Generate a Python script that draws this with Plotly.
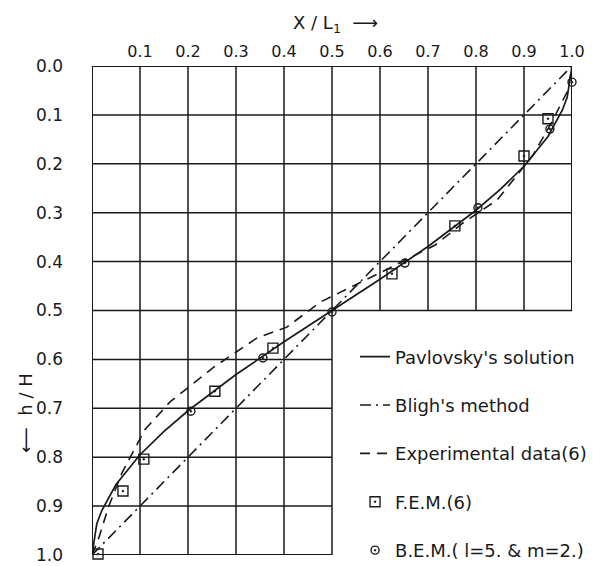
import plotly.graph_objects as go

# ---- axis ticks ----
x_ticks = [0.1, 0.2, 0.3, 0.4, 0.5, 0.6, 0.7, 0.8, 0.9, 1.0]
x_tick_text = ["0.1", "0.2", "0.3", "0.4", "0.5", "0.6", "0.7", "0.8", "0.9", "1.0"]
y_ticks = [0.0, 0.1, 0.2, 0.3, 0.4, 0.5, 0.6, 0.7, 0.8, 0.9, 1.0]
y_tick_text = ["0.0", "0.1", "0.2", "0.3", "0.4", "0.5", "0.6", "0.7", "0.8", "0.9", "1.0"]

# ---- series (x = X/L1, y = h/H) ----
pav_x = [0.0, 0.01, 0.02, 0.05, 0.1, 0.15, 0.2, 0.3, 0.4, 0.5, 0.6, 0.7, 0.8, 0.85, 0.9, 0.95, 0.98, 0.99, 1.0]
pav_y = [1.0, 0.936, 0.91, 0.856, 0.795, 0.747, 0.705, 0.631, 0.564, 0.5, 0.436, 0.369, 0.295, 0.253, 0.205, 0.144, 0.09, 0.064, 0.0]

bligh_x = [0.0, 1.0]
bligh_y = [1.0, 0.0]

exp_x = [0.0, 0.0125, 0.035, 0.0625, 0.11, 0.1625, 0.255, 0.344, 0.406, 0.475, 0.6, 0.655, 0.715, 0.773, 0.844, 0.919, 0.955, 0.992, 1.0]
exp_y = [1.0, 0.97, 0.9, 0.832, 0.744, 0.687, 0.615, 0.556, 0.534, 0.483, 0.423, 0.395, 0.366, 0.321, 0.274, 0.182, 0.12, 0.049, 0.0]

fem_x = [0.0125, 0.0645, 0.108, 0.256, 0.377, 0.625, 0.756, 0.90, 0.95]
fem_y = [0.998, 0.869, 0.804, 0.665, 0.577, 0.425, 0.327, 0.184, 0.108]

bem_x = [0.206, 0.356, 0.50, 0.652, 0.804, 0.954, 1.0]
bem_y = [0.706, 0.597, 0.503, 0.403, 0.29, 0.129, 0.033]

INK = "#1a1a1a"
FONT = "DejaVu Sans"

fig = go.Figure()
fig.add_trace(go.Scatter(x=pav_x, y=pav_y, mode="lines", name="Pavlovsky's solution",
                         legendgroup="a", line=dict(color=INK, width=1.7)))
fig.add_trace(go.Scatter(x=bligh_x, y=bligh_y, mode="lines", name="Bligh's method",
                         legendgroup="b", line=dict(color=INK, width=1.6, dash="11px,5px,2px,5px")))
fig.add_trace(go.Scatter(x=exp_x, y=exp_y, mode="lines", name="Experimental data(6)",
                         legendgroup="c", line=dict(color=INK, width=1.6, dash="10px,7px")))
fig.add_trace(go.Scatter(x=fem_x, y=fem_y, mode="markers", name="F.E.M.(6)", legendgroup="d",
                         cliponaxis=False,
                         marker=dict(symbol="square-open-dot", size=10, color=INK, line=dict(color=INK, width=1.4))))
fig.add_trace(go.Scatter(x=bem_x, y=bem_y, mode="markers", name="B.E.M.( l=5. & m=2.)", legendgroup="e",
                         cliponaxis=False,
                         marker=dict(symbol="circle-open-dot", size=8, color=INK, line=dict(color=INK, width=1.4))))

# ---- grid drawn as L-shaped frame (lower-right quadrant left open for legend) ----
cut = 0.5
shapes = []
for t in x_ticks[:-1]:
    shapes.append(dict(type="line", xref="x", yref="y", x0=t, x1=t, y0=0, y1=(1 if t <= cut else cut),
                       line=dict(color=INK, width=1.5), layer="below"))
for t in y_ticks[1:-1]:
    shapes.append(dict(type="line", xref="x", yref="y", y0=t, y1=t, x0=0, x1=(1 if t <= cut else cut),
                       line=dict(color=INK, width=1.5), layer="below"))
frame = [((0, 0), (1, 0)), ((0, 0), (0, 1)), ((1, 0), (1, cut)), ((0, 1), (cut, 1))]
for (a, b) in frame:
    shapes.append(dict(type="line", xref="x", yref="y", x0=a[0], y0=a[1], x1=b[0], y1=b[1],
                       line=dict(color=INK, width=2), layer="below"))

fig.update_layout(
    width=600, height=566,
    margin=dict(l=84, r=36, t=58, b=19, autoexpand=False),
    paper_bgcolor="white", plot_bgcolor="white",
    font=dict(family=FONT, color=INK),
    shapes=shapes,
    showlegend=True,
    legend=dict(x=0.548, y=0.443, xanchor="left", yanchor="top", tracegroupgap=22,
                bgcolor="rgba(0,0,0,0)", font=dict(size=18, family=FONT, color=INK)),
    xaxis=dict(range=[0, 1], side="top", tickvals=x_ticks, ticktext=x_tick_text,
               showgrid=False, zeroline=False, showline=False, ticks="", automargin=False,
               ticklabelstandoff=5, tickfont=dict(size=16)),
    yaxis=dict(range=[1, 0], tickvals=y_ticks, ticktext=y_tick_text,
               showgrid=False, zeroline=False, showline=False, ticks="", automargin=False,
               ticklabelstandoff=28, tickfont=dict(size=17)),
    annotations=[
        dict(text="X / L<sub>1</sub>  ⟶", xref="paper", yref="paper", x=0.508, y=1.086,
             showarrow=False, font=dict(size=18), xanchor="center", yanchor="middle"),
        dict(text="⟵  h / H", xref="paper", yref="paper", x=-0.14, y=0.29, textangle=-90,
             showarrow=False, font=dict(size=18), xanchor="center", yanchor="middle"),
    ],
)

fig.write_html("out.html")
